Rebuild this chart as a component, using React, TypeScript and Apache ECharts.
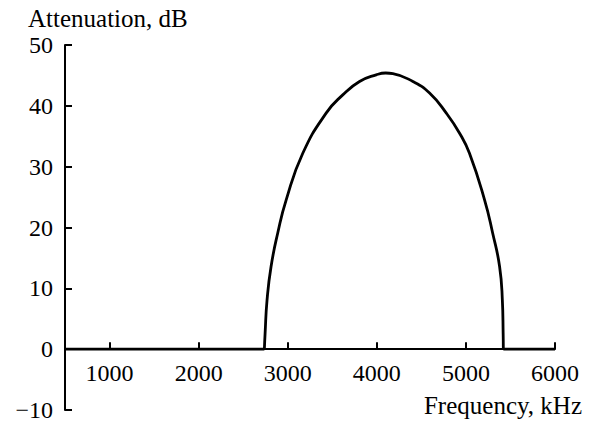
import React, { useEffect, useRef } from "react";
import * as echarts from "echarts";

const frequency = [2738, 2746, 2768, 2813, 2888, 2982, 3169, 3431, 3618, 3806, 3993, 4100, 4180, 4405, 4592, 4780, 4929, 5040, 5210, 5300, 5378, 5409, 5418, 5420];
const attenuation = [0, 2.6, 8.1, 13.6, 19.1, 24.5, 32.2, 38.8, 41.8, 44.0, 45.1, 45.4, 45.3, 44.0, 42.1, 38.8, 35.5, 32.2, 24.5, 19.1, 13.6, 8.1, 2.6, 0];
const baseLeft = [[500, 0], [2738, 0]];
const baseRight = [[5420, 0], [6000, 0]];
const xTicks = [1000, 2000, 3000, 4000, 5000, 6000];

const FONT = "Liberation Serif";

export default function App() {
  const ref = useRef<HTMLDivElement>(null);
  useEffect(() => {
    if (!ref.current) return;
    const chart = echarts.init(ref.current, undefined, { renderer: "svg" });
    const data = frequency.map((f, i) => [f, attenuation[i]]);
    const top = 45;
    const bottom = 13;
    const plotH = 423 - top - bottom;
    const zeroOffset = -(plotH * 10) / 60;
    const lineStyle = { color: "#000", width: 2.8 };
    const rich = { s: { fontFamily: FONT, fontSize: 24, color: "#000" } };
    chart.setOption({
      animation: false,
      backgroundColor: "#fff",
      textStyle: { fontFamily: FONT, color: "#000" },
      grid: { left: 65, right: 37, top, bottom, containLabel: false, outerBoundsMode: "none" },
      xAxis: {
        type: "value",
        min: 500,
        max: 6000,
        interval: 500,
        offset: zeroOffset,
        axisLine: { onZero: false, lineStyle: { color: "#000", width: 2 } },
        axisTick: {
          show: true,
          inside: true,
          length: 7,
          lineStyle: { color: "#000", width: 2 },
          customValues: xTicks,
        },
        axisLabel: {
          color: "#000",
          fontFamily: FONT,
          fontSize: 24,
          margin: 12,
          customValues: xTicks,
          formatter: (v: number) => "{s|" + String(v) + "}",
          rich,
        },
        splitLine: { show: false },
      },
      yAxis: {
        type: "value",
        min: -10,
        max: 50,
        interval: 10,
        axisLine: { show: true, lineStyle: { color: "#000", width: 2 } },
        axisTick: { show: true, inside: true, length: 7, lineStyle: { color: "#000", width: 2 } },
        axisLabel: {
          color: "#000",
          fontFamily: FONT,
          fontSize: 24,
          margin: 12,
          formatter: (v: number) => "{s|" + (v < 0 ? "\u2212" + Math.abs(v) : String(v)) + "}",
          rich,
        },
        splitLine: { show: false },
      },
      graphic: [
        {
          type: "text",
          left: 28,
          top: 6,
          style: { text: "Attenuation, dB", fontFamily: FONT, fontSize: 25, fill: "#000" },
        },
        {
          type: "text",
          right: 10,
          top: 393,
          style: { text: "Frequency, kHz", fontFamily: FONT, fontSize: 25, fill: "#000" },
        },
      ],
      series: [
        { type: "line", data: baseLeft, showSymbol: false, lineStyle },
        { type: "line", data, smooth: 0.5, showSymbol: false, lineStyle },
        { type: "line", data: baseRight, showSymbol: false, lineStyle },
      ],
    });
    return () => chart.dispose();
  }, []);
  return <div ref={ref} style={{ width: 592, height: 423, position: "absolute", left: 0, top: 0 }} />;
}
